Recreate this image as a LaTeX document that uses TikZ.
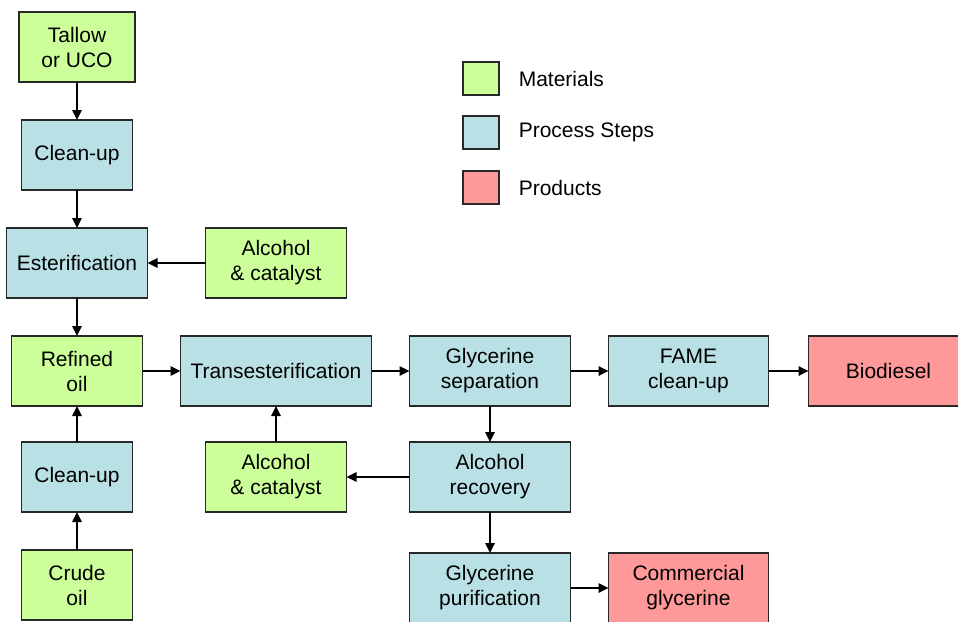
\documentclass[tikz,border=0pt]{standalone}
\usepackage{fontspec}
\setmainfont{Liberation Sans}
\usepackage{tikz}
\usetikzlibrary{arrows.meta, positioning}
\definecolor{matgreen}{RGB}{204,255,153}
\definecolor{procblue}{RGB}{185,224,228}
\definecolor{prodred}{RGB}{255,153,153}
\definecolor{edgegray}{RGB}{40,40,40}

\begin{document}
\begin{tikzpicture}[node distance=19pt, >={Triangle[length=5pt,width=4.8pt]},
      box/.style={rectangle, draw=edgegray, line width=0.7pt, minimum height=35pt,
                  outer sep=0pt, align=center, inner sep=2pt,
                  font=\fontsize{10.5}{12.5}\selectfont},
      material/.style={box, fill=matgreen},
      process/.style={box, fill=procblue},
      product/.style={box, fill=prodred},
      legendbox/.style={rectangle, draw=edgegray, line width=0.7pt,
                        minimum width=18pt, minimum height=16.5pt},
      legendtext/.style={right=6pt of #1, font=\fontsize{10.5}{12.5}\selectfont},
      flow/.style={->, line width=0.7pt}]

    \useasboundingbox (0,0) rectangle (479pt,-310.5pt);

    % feedstock column
    \node[material, minimum width=58pt] (tallow) at (38.5pt,-23.5pt) {Tallow\\or UCO};
    \node[process, minimum width=55.5pt, below=of tallow] (cleanA) {Clean-up};
    \node[process, minimum width=70.5pt, below=of cleanA] (ester) {Esterification};
    \node[material, minimum width=65.5pt, below=of ester] (refined) {Refined\\oil};
    \node[process, minimum width=55.5pt, below=18pt of refined] (cleanB) {Clean-up};
    \node[material, minimum width=55.5pt, below=of cleanB] (crude) {Crude\\oil};

    % main line
    \node[process, minimum width=95.5pt, right=of refined] (trans) {Transesterification};
    \node[material, minimum width=70.5pt, above=of trans] (alcA) {Alcohol\\\& catalyst};
    \node[material, minimum width=70.5pt, below=18pt of trans] (alcB) {Alcohol\\\& catalyst};
    \node[process, minimum width=80.5pt, right=of trans] (gsep) {Glycerine\\separation};
    \node[process, minimum width=80pt, right=of gsep] (fame) {FAME\\clean-up};
    \node[product, minimum width=80pt, right=20pt of fame] (bio) {Biodiesel};
    \node[process, minimum width=80.5pt, below=18pt of gsep] (alcrec) {Alcohol\\recovery};
    \node[process, minimum width=80.5pt, below=20.5pt of alcrec] (gpur) {Glycerine\\purification};
    \node[product, minimum width=80pt, right=of gpur] (comm) {Commercial\\glycerine};

    % legend
    \node[legendbox, fill=matgreen] (legmat) at (240.5pt,-39.25pt) {};
    \node[legendbox, fill=procblue] (legproc) at (240.5pt,-66.25pt) {};
    \node[legendbox, fill=prodred] (legprod) at (240.5pt,-93.75pt) {};
    \node[legendtext=legmat] (legmatT) {Materials};
    \node[legendtext=legproc] (legprocT) {Process Steps};
    \node[legendtext=legprod] (legprodT) {Products};

    \draw[flow] (tallow) -- (cleanA);
    \draw[flow] (cleanA) -- (ester);
    \draw[flow] (alcA) -- (ester);
    \draw[flow] (ester) -- (refined);
    \draw[flow] (crude) -- (cleanB);
    \draw[flow] (cleanB) -- (refined);
    \draw[flow] (refined) -- (trans);
    \draw[flow] (alcB) -- (trans);
    \draw[flow] (trans) -- (gsep);
    \draw[flow] (gsep) -- (fame);
    \draw[flow] (fame) -- (bio);
    \draw[flow] (gsep) -- (alcrec);
    \draw[flow] (alcrec) -- (alcB);
    \draw[flow] (alcrec) -- (gpur);
    \draw[flow] (gpur) -- (comm);
  \end{tikzpicture}
\end{document}
